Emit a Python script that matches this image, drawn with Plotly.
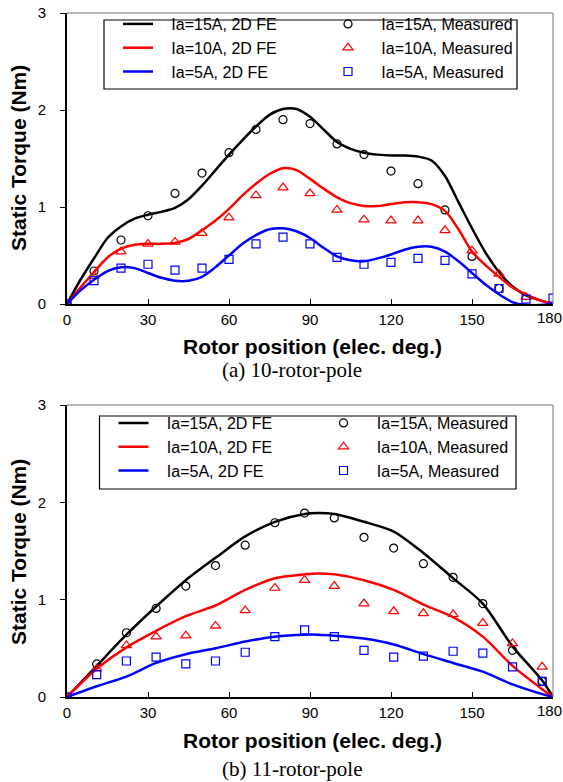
import plotly.graph_objects as go

# ---------------- data: (a) 10-rotor-pole ----------------
fe_x_a = [0, 5, 10, 15, 20, 25, 30, 35, 40, 45, 50, 55, 60, 65, 70, 75, 80, 85, 90,
          95, 100, 105, 110, 115, 120, 125, 130, 135, 140, 145, 150, 155, 160, 165,
          170, 175, 180]
fe15_a = [0, 0.25, 0.47, 0.68, 0.80, 0.88, 0.92, 0.95, 0.99, 1.08, 1.22, 1.38, 1.54,
          1.69, 1.83, 1.95, 2.01, 2.01, 1.93, 1.80, 1.67, 1.60, 1.56, 1.54, 1.53, 1.53,
          1.52, 1.48, 1.32, 1.05, 0.78, 0.53, 0.33, 0.18, 0.09, 0.04, 0]
fe10_a = [0, 0.17, 0.33, 0.48, 0.57, 0.61, 0.62, 0.62, 0.63, 0.67, 0.76, 0.86, 0.98,
          1.12, 1.24, 1.34, 1.40, 1.38, 1.29, 1.19, 1.10, 1.04, 1.01, 1.01, 1.03, 1.05,
          1.05, 1.03, 0.96, 0.77, 0.54, 0.40, 0.28, 0.17, 0.10, 0.04, 0]
fe5_a = [0, 0.14, 0.25, 0.34, 0.38, 0.37, 0.32, 0.27, 0.24, 0.24, 0.28, 0.38, 0.50,
         0.62, 0.71, 0.77, 0.78, 0.75, 0.68, 0.58, 0.49, 0.45, 0.44, 0.47, 0.51, 0.56,
         0.59, 0.59, 0.54, 0.44, 0.32, 0.20, 0.10, 0.02, -0.01, -0.01, 0]

m15_x_a = [0, 10, 20, 30, 40, 50, 60, 70, 80, 90, 100, 110, 120, 130, 140, 150, 160]
m15_a = [0, 0.34, 0.66, 0.91, 1.14, 1.35, 1.56, 1.80, 1.90, 1.86, 1.65, 1.54, 1.37,
         1.24, 0.97, 0.49, 0.16]
m10_x_a = [0, 10, 20, 30, 40, 50, 60, 70, 80, 90, 100, 110, 120, 130, 140, 150, 160, 170]
m10_a = [0, 0.29, 0.54, 0.62, 0.64, 0.73, 0.89, 1.12, 1.20, 1.14, 0.97, 0.87, 0.86,
         0.86, 0.76, 0.55, 0.31, 0.07]
m5_x_a = [0, 10, 20, 30, 40, 50, 60, 70, 80, 90, 100, 110, 120, 130, 140, 150, 160, 170, 180]
m5_a = [0, 0.24, 0.37, 0.41, 0.35, 0.37, 0.46, 0.62, 0.69, 0.62, 0.48, 0.41, 0.43,
        0.47, 0.45, 0.31, 0.16, 0.05, 0.06]

# ---------------- data: (b) 11-rotor-pole ----------------
fe_x_b = [0, 11, 22, 33, 44, 55, 66, 77, 88, 93, 99, 110, 121, 132, 143, 154, 165, 176, 180]
fe15_b = [0, 0.32, 0.64, 0.93, 1.20, 1.43, 1.65, 1.80, 1.88, 1.89, 1.88, 1.80, 1.70,
          1.48, 1.22, 0.96, 0.52, 0.17, 0]
fe10_b = [0, 0.29, 0.51, 0.68, 0.83, 0.94, 1.10, 1.22, 1.26, 1.27, 1.26, 1.20, 1.10,
          0.95, 0.82, 0.62, 0.32, 0.08, 0]
fe5_b = [0, 0.11, 0.21, 0.35, 0.44, 0.50, 0.57, 0.62, 0.64, 0.64, 0.63, 0.60, 0.54,
         0.44, 0.35, 0.26, 0.13, 0.03, 0]

m_x_b = [0, 11, 22, 33, 44, 55, 66, 77, 88, 99, 110, 121, 132, 143, 154, 165, 176]
m15_b = [0, 0.34, 0.66, 0.91, 1.14, 1.35, 1.56, 1.79, 1.89, 1.84, 1.64, 1.53, 1.37,
         1.23, 0.96, 0.48, 0.16]
m10_b = [0, 0.29, 0.53, 0.62, 0.63, 0.73, 0.89, 1.12, 1.20, 1.14, 0.96, 0.88, 0.86,
         0.85, 0.76, 0.55, 0.31]
m5_b = [0, 0.23, 0.37, 0.41, 0.34, 0.37, 0.46, 0.62, 0.69, 0.62, 0.48, 0.41, 0.42,
        0.47, 0.45, 0.31, 0.16]

x_ticks = [0, 30, 60, 90, 120, 150, 180]
x_tick_labels = ["0", "30", "60", "90", "120", "150", "180"]
y_ticks = [0, 1, 2, 3]
labels_fe = ["Ia=15A, 2D FE", "Ia=10A, 2D FE", "Ia=5A, 2D FE"]
labels_m = ["Ia=15A, Measured", "Ia=10A, Measured", "Ia=5A, Measured"]
colors = ["#000000", "#ff0000", "#0000ff"]
symbols = ["circle-open", "triangle-up-open", "square-open"]
msizes = [8, 9, 8]
captions = ["(a) 10-rotor-pole", "(b) 11-rotor-pole"]
x_title = "Rotor position (elec. deg.)"
y_title = "Static Torque (Nm)"

PAD = "\u00a0\u00a0\u00a0"

# the last x label sits against the page edge; it is drawn as an annotation nudged left
x_tick_text = x_tick_labels[:-1] + [""]

fig = go.Figure()

panels = [
    ("x", "y", "legend", fe_x_a, [fe15_a, fe10_a, fe5_a],
     [(m15_x_a, m15_a), (m10_x_a, m10_a), (m5_x_a, m5_a)]),
    ("x2", "y2", "legend2", fe_x_b, [fe15_b, fe10_b, fe5_b],
     [(m_x_b, m15_b), (m_x_b, m10_b), (m_x_b, m5_b)]),
]
for xa, ya, lg, fx, fes, ms in panels:
    for i in range(3):
        fig.add_trace(go.Scatter(
            x=fx, y=fes[i], mode="lines", name=PAD + labels_fe[i], xaxis=xa, yaxis=ya,
            legend=lg, line=dict(color=colors[i], width=2.5, shape="spline", smoothing=0.8)))
        fig.add_trace(go.Scatter(
            x=ms[i][0], y=ms[i][1], mode="markers", name=PAD + labels_m[i], xaxis=xa, yaxis=ya,
            legend=lg, marker=dict(symbol=symbols[i], size=msizes[i], color=colors[i],
                                   line=dict(width=1.2, color=colors[i]))))

FONT = "Liberation Sans, Arial, sans-serif"
tickfont = dict(family=FONT, size=15, color="black")

# plot area (page px): x 67..553, y 13..697; top subplot 13..304, bottom 405..697
top_dom = [(697 - 304) / 684, 1.0]
bot_dom = [0.0, (697 - 405) / 684]


def py(pix):
    return (697 - pix) / 684


def px(pix):
    return (pix - 67) / 486


xax = dict(range=[0, 180], tickvals=x_ticks, ticktext=x_tick_text, ticks="inside",
           ticklen=5, tickwidth=1, tickcolor="black", showline=True, linecolor="black",
           linewidth=2, showgrid=False, zeroline=False, tickfont=tickfont,
           ticklabelstandoff=1, ticklabeloverflow="allow", automargin=False)
yax = dict(range=[0, 3], tickvals=y_ticks, ticks="outside", ticklen=5, tickwidth=1,
           tickcolor="black", showline=True, linecolor="black", linewidth=2,
           showgrid=False, zeroline=False, tickfont=tickfont, ticklabelstandoff=11,
           automargin=False)

legfont = dict(family=FONT, size=16, color="black")
fig.update_layout(
    width=563, height=782,
    margin=dict(l=67, r=10, t=13, b=85, autoexpand=False),
    paper_bgcolor="white", plot_bgcolor="white",
    xaxis=dict(xax, domain=[0, 1], anchor="y"),
    yaxis=dict(yax, domain=top_dom, anchor="x"),
    xaxis2=dict(xax, domain=[0, 1], anchor="y2"),
    yaxis2=dict(yax, domain=bot_dom, anchor="x2"),
    legend=dict(orientation="h", x=px(118), xanchor="left", y=py(7), yanchor="top",
                borderwidth=0, bgcolor="rgba(0,0,0,0)", font=legfont,
                entrywidth=165, entrywidthmode="pixels", traceorder="normal"),
    legend2=dict(orientation="h", x=px(113.5), xanchor="left", y=py(406), yanchor="top",
                 borderwidth=0, bgcolor="rgba(0,0,0,0)", font=legfont,
                 entrywidth=165, entrywidthmode="pixels", traceorder="normal"),
    showlegend=True,
)

# thin grey top/right frame
for xr, yr in [("x domain", "y domain"), ("x2 domain", "y2 domain")]:
    fig.add_shape(type="line", xref=xr, yref=yr, x0=0, x1=1, y0=1, y1=1,
                  line=dict(color="#777777", width=1))
    fig.add_shape(type="line", xref=xr, yref=yr, x0=1, x1=1, y0=0, y1=1,
                  line=dict(color="#777777", width=1))

# legend frames
for (l, r, t, b) in [(104, 517, 20, 89), (99.5, 516, 416, 489)]:
    fig.add_shape(type="rect", xref="paper", yref="paper", x0=px(l), x1=px(r),
                  y0=py(b), y1=py(t), line=dict(color="black", width=1.2),
                  fillcolor="rgba(0,0,0,0)", layer="above")

annos = []
for off, cap_off, cap, xr in [(0, 0, captions[0], "x"), (394, 399, captions[1], "x2")]:
    annos.append(dict(text=x_title, x=px(312), y=py(346 + off), xref="paper", yref="paper",
                      showarrow=False, xanchor="center", yanchor="middle",
                      font=dict(family=FONT, size=21, color="black", weight="bold")))
    annos.append(dict(text=cap, x=px(292), y=py(370 + cap_off), xref="paper", yref="paper",
                      showarrow=False, xanchor="center", yanchor="middle",
                      font=dict(family="Liberation Serif, Times New Roman, serif", size=21,
                                color="black")))
    annos.append(dict(text=y_title, x=px(18), y=py(158 + off), xref="paper", yref="paper",
                      showarrow=False, xanchor="center", yanchor="middle", textangle=-90,
                      font=dict(family=FONT, size=21, color="black", weight="bold")))
    annos.append(dict(text=x_tick_labels[-1], x=x_ticks[-1], xref=xr, xshift=-4,
                      y=py(317 + off), yref="paper", showarrow=False, xanchor="center",
                      yanchor="middle", font=tickfont))
fig.update_layout(annotations=annos)

# remove the browser's default 8px page margin so the figure sits at the window origin
fig.write_html("out.html", config={"displayModeBar": False},
               post_script="document.body.style.margin='0';document.body.style.overflow='hidden';")
